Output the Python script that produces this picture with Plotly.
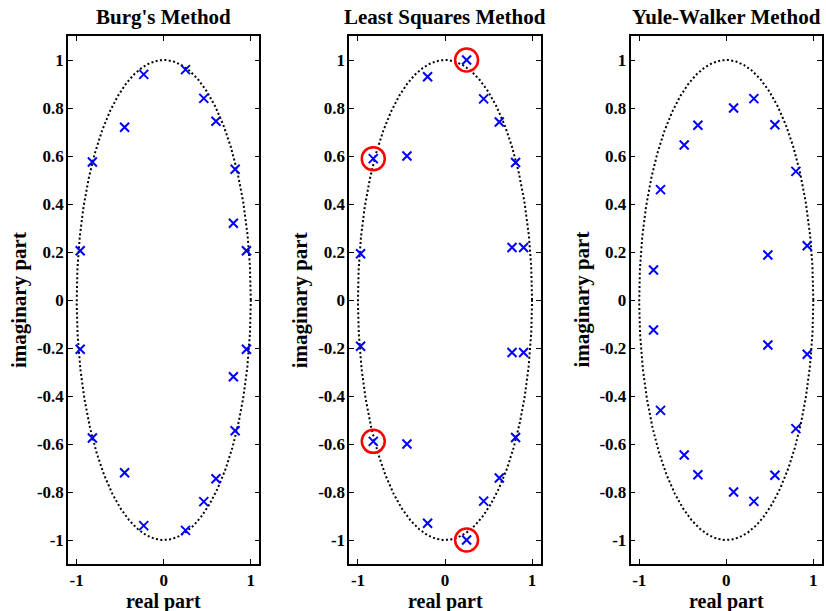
import numpy as np
import plotly.graph_objects as go

# Pole locations (real / imaginary parts) estimated by three AR methods
burg_re = [-0.96, -0.82, -0.45, -0.23, 0.25, 0.46, 0.60, 0.82, 0.80, 0.95,
           -0.96, -0.82, -0.45, -0.23, 0.25, 0.46, 0.60, 0.82, 0.80, 0.95]
burg_im = [0.205, 0.575, 0.72, 0.94, 0.96, 0.84, 0.745, 0.545, 0.32, 0.205,
           -0.205, -0.575, -0.72, -0.94, -0.96, -0.84, -0.745, -0.545, -0.32, -0.205]

ls_re = [-0.97, -0.824, -0.437, -0.20, 0.248, 0.444, 0.624, 0.811, 0.77, 0.903,
         -0.97, -0.824, -0.437, -0.20, 0.248, 0.444, 0.624, 0.811, 0.77, 0.903]
ls_im = [0.193, 0.589, 0.60, 0.93, 1.0, 0.838, 0.742, 0.573, 0.219, 0.219,
         -0.193, -0.589, -0.60, -0.93, -1.0, -0.838, -0.742, -0.573, -0.219, -0.219]

# Least-squares poles that fall on/outside the unit circle
flag_re = [0.248, -0.824, -0.824, 0.248]
flag_im = [1.0, 0.589, -0.589, -1.0]

yw_re = [-0.836, -0.755, -0.483, -0.326, 0.084, 0.317, 0.559, 0.80, 0.93, 0.478,
         -0.836, -0.755, -0.483, -0.326, 0.084, 0.317, 0.559, 0.80, 0.93, 0.478]
yw_im = [0.125, 0.46, 0.646, 0.728, 0.80, 0.839, 0.73, 0.536, 0.226, 0.1875,
         -0.125, -0.46, -0.646, -0.728, -0.80, -0.839, -0.73, -0.536, -0.226, -0.1875]

titles = ["Burg's Method", "Least Squares Method", "Yule-Walker Method"]
y_ticks = [-1, -0.8, -0.6, -0.4, -0.2, 0, 0.2, 0.4, 0.6, 0.8, 1]
y_tick_text = ["-1", "-0.8", "-0.6", "-0.4", "-0.2", "0", "0.2", "0.4", "0.6", "0.8", "1"]
x_ticks = [-1, 0, 1]
x_tick_text = ["-1", "0", "1"]

FONT = "Liberation Serif"
W, H = 826, 611
ML, MR, MT, MB = 68, 2, 36, 47
plot_w = W - ML - MR
panels_px = [(68, 260), (350, 542), (632, 824)]
domains = [((a - ML) / plot_w, (b - ML) / plot_w) for a, b in panels_px]

theta = np.linspace(0, 2 * np.pi, 721)
circ_x = np.cos(theta)
circ_y = np.sin(theta)

fig = go.Figure()
series = [(burg_re, burg_im), (ls_re, ls_im), (yw_re, yw_im)]

for i, (re, im) in enumerate(series):
    xa = "x" if i == 0 else f"x{i+1}"
    ya = "y" if i == 0 else f"y{i+1}"
    fig.add_trace(go.Scatter(x=circ_x, y=circ_y, mode="lines", xaxis=xa, yaxis=ya,
                             line=dict(color="black", width=2, dash="2px,2.4px"),
                             hoverinfo="skip", showlegend=False))
    fig.add_trace(go.Scatter(x=re, y=im, mode="markers", xaxis=xa, yaxis=ya,
                             marker=dict(symbol="x-thin", size=9, color="#0000ff",
                                         line=dict(color="#0000ff", width=2)),
                             showlegend=False))
    if i == 1:
        fig.add_trace(go.Scatter(x=flag_re, y=flag_im, mode="markers", xaxis=xa, yaxis=ya,
                                 marker=dict(symbol="circle-open", size=23, color="#ff0000",
                                             line=dict(color="#ff0000", width=2.5)),
                                 showlegend=False))

axis_common = dict(showgrid=False, zeroline=False, showline=True, linecolor="black",
                   linewidth=1.5, mirror="ticks", ticks="inside", ticklen=5,
                   tickwidth=1, tickcolor="black",
                   tickfont=dict(family=FONT, size=17, color="black", weight="bold"))

layout = dict(width=W, height=H, margin=dict(l=ML, r=MR, t=MT, b=MB),
              paper_bgcolor="white", plot_bgcolor="white", showlegend=False)
annotations = []
for i, (d0, d1) in enumerate(domains):
    sx = "" if i == 0 else str(i + 1)
    layout[f"xaxis{sx}"] = dict(axis_common, domain=[d0, d1], range=[-1.1, 1.1],
                                tickvals=x_ticks, ticktext=x_tick_text,
                                anchor=f"y{sx}")
    layout[f"yaxis{sx}"] = dict(axis_common, domain=[0, 1], range=[-1.1, 1.1],
                                tickvals=y_ticks, ticktext=y_tick_text,
                                anchor=f"x{sx}", ticklabelstandoff=-1)
    cx = (d0 + d1) / 2
    annotations.append(dict(text=f"<b>{titles[i]}</b>", x=cx, y=1, xref="paper", yref="paper",
                            xanchor="center", yanchor="bottom", yshift=5, showarrow=False,
                            font=dict(family=FONT, size=21, color="black")))
    annotations.append(dict(text="<b>real part</b>", x=cx, y=0, xref="paper", yref="paper",
                            xanchor="center", yanchor="top", yshift=-24, showarrow=False,
                            font=dict(family=FONT, size=20, color="black")))
    annotations.append(dict(text="<b>imaginary part</b>", x=d0, y=0.5, xref="paper", yref="paper",
                            xanchor="right", yanchor="middle", xshift=-35, textangle=-90,
                            showarrow=False, font=dict(family=FONT, size=21, color="black")))

layout["annotations"] = annotations
fig.update_layout(**layout)
fig.write_html("out.html")
